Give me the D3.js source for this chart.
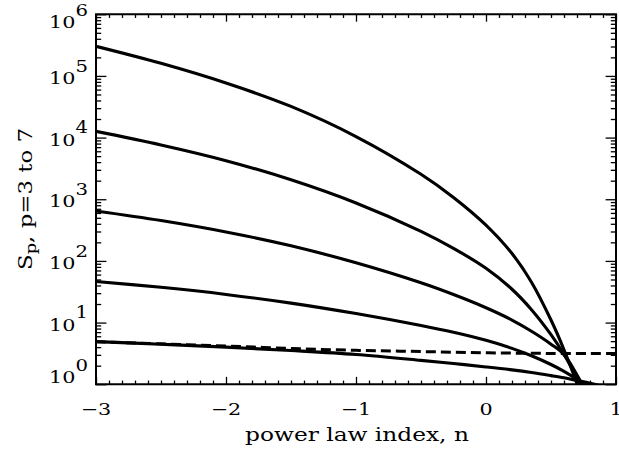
<!DOCTYPE html>
<html><head><meta charset="utf-8">
<script src="https://cdn.jsdelivr.net/npm/d3@7"></script>
<style>body{margin:0;background:#fff} svg{display:block;background:#fff}</style>
</head><body>
<svg id="c" width="619" height="452"></svg>
<script>
// ---- data ----
const nGrid = [-3, -2.5, -2, -1.5, -1, -0.5, -0.25, 0, 0.2, 0.35, 0.5, 0.6, 0.7, 0.8, 0.9];
const S7 = [302000, 160000, 76700, 32000, 10400, 2540, 1070, 380, 132, 45.2, 11.0, 3.63, 1.023, 0.257, 0.0562];
const S6 = [12600, 7590, 4220, 2070, 871, 302, 160, 75.9, 34.7, 16.2, 6.38, 3.05, 1.27, 0.473, 0.157];
const S5 = [646, 452, 295, 176, 93.3, 44.2, 28.5, 17.4, 11.0, 7.24, 4.47, 3.02, 1.41, 0.562, 0.200];
const S4 = [46.5, 37.3, 28.6, 20.7, 14.0, 8.95, 6.95, 5.15, 3.82, 2.90, 2.09, 1.62, 1.20, 0.832, 0.525];
const S3 = [4.92, 4.46, 4.00, 3.52, 3.03, 2.44, 2.17, 1.91, 1.71, 1.55, 1.38, 1.27, 1.15, 1.04, 0.924];
const dashN = [-3, -2.5, -2, -1.5, -1, -0.5, 0, 0.5, 1];
const dashS = [4.90, 4.52, 4.17, 3.80, 3.55, 3.39, 3.24, 3.16, 3.16];
const xTickVals = [-3, -2, -1, 0, 1];
const xTickLabels = ["\u22123", "\u22122", "\u22121", "0", "1"];
const yTickExps = [0, 1, 2, 3, 4, 5, 6];
const xTitle = "power law index, n";

// ---- layout ----
const L = 96, R = 616, T = 14.25, B = 384.25;
const FONT = "DejaVu Serif";
const svg = d3.select("#c");
const x = d3.scaleLinear().domain([-3, 1]).range([L, R]);
const y = d3.scaleLog().domain([1, 1e6]).range([B, T]);

svg.append("defs").append("clipPath").attr("id", "clip")
  .append("rect").attr("x", L).attr("y", T).attr("width", R - L).attr("height", B - T);

// curves
const line = d3.line().x(d => x(d[0])).y(d => y(d[1])).curve(d3.curveCatmullRom.alpha(0.5));
const gC = svg.append("g").attr("clip-path", "url(#clip)");
[S3, S4, S5, S6, S7].forEach(s => {
  gC.append("path").datum(nGrid.map((n, i) => [n, s[i]]))
    .attr("d", line).attr("fill", "none").attr("stroke", "#000").attr("stroke-width", 3.1);
});
gC.append("path").datum(dashN.map((n, i) => [n, dashS[i]]))
  .attr("d", line).attr("fill", "none").attr("stroke", "#000").attr("stroke-width", 3)
  .attr("stroke-dasharray", "10,5");

// axes ticks (inward), using d3 axes
const xMinor = d3.range(-30, 11).map(v => v / 10).filter(v => Math.abs(v - Math.round(v)) > 1e-9);
const yMinor = [];
for (let k = 0; k < 6; k++) for (let m = 2; m <= 9; m++) yMinor.push(m * Math.pow(10, k));
const majX = 7.4, minX = 3.7, majY = 10.4, minY = 5.2;
function styleAxis(g) { g.selectAll("path.domain").remove(); g.selectAll("line").attr("stroke", "#000").attr("stroke-width", 1.3); g.selectAll("text").remove(); }
svg.append("g").attr("transform", `translate(0,${B})`).call(d3.axisBottom(x).tickValues(xTickVals).tickSize(-majX).tickFormat("")).call(styleAxis);
svg.append("g").attr("transform", `translate(0,${B})`).call(d3.axisBottom(x).tickValues(xMinor).tickSize(-minX).tickFormat("")).call(styleAxis);
svg.append("g").attr("transform", `translate(0,${T})`).call(d3.axisTop(x).tickValues(xTickVals).tickSize(-majX).tickFormat("")).call(styleAxis);
svg.append("g").attr("transform", `translate(0,${T})`).call(d3.axisTop(x).tickValues(xMinor).tickSize(-minX).tickFormat("")).call(styleAxis);
const yMaj = yTickExps.map(k => Math.pow(10, k));
svg.append("g").attr("transform", `translate(${L},0)`).call(d3.axisLeft(y).tickValues(yMaj).tickSize(-majY).tickFormat("")).call(styleAxis);
svg.append("g").attr("transform", `translate(${L},0)`).call(d3.axisLeft(y).tickValues(yMinor).tickSize(-minY).tickFormat("")).call(styleAxis);
svg.append("g").attr("transform", `translate(${R},0)`).call(d3.axisRight(y).tickValues(yMaj).tickSize(-majY).tickFormat("")).call(styleAxis);
svg.append("g").attr("transform", `translate(${R},0)`).call(d3.axisRight(y).tickValues(yMinor).tickSize(-minY).tickFormat("")).call(styleAxis);

// frame
svg.append("rect").attr("x", L).attr("y", T).attr("width", R - L).attr("height", B - T)
  .attr("fill", "none").attr("stroke", "#000").attr("stroke-width", 2);

// labels
const FS = 17, SX = 1.22;
xTickVals.forEach((v, i) => {
  svg.append("text").attr("transform", `translate(${x(v)},415) scale(${SX},1)`)
    .attr("text-anchor", "middle").attr("font-family", FONT).attr("font-size", FS).text(xTickLabels[i]);
});
yTickExps.forEach(k => {
  const ty = y(Math.pow(10, k));
  const base = k === 6 ? ty + 14 : (k === 0 ? ty - 1 : ty + 8);
  const t = svg.append("text").attr("transform", `translate(88,${base}) scale(${SX},1)`)
    .attr("text-anchor", "end").attr("font-family", FONT).attr("font-size", FS);
  t.append("tspan").text("10");
  t.append("tspan").attr("dy", -12.3).attr("font-size", FS * 0.95).text(String(k));
});
// x title
const xt = svg.append("text").attr("font-family", FONT).attr("font-size", 18).attr("text-anchor", "middle").text(xTitle);
const xw = xt.node().getComputedTextLength();
xt.attr("transform", `translate(357,441) scale(${224 / xw},1)`);
// y title
const yt = svg.append("text").attr("font-family", FONT).attr("font-size", 18).attr("text-anchor", "middle");
yt.append("tspan").text("S");
yt.append("tspan").attr("dy", 4).attr("font-size", 14).text("p");
yt.append("tspan").attr("dy", -4).text(", p=3 to 7");
const yw = yt.node().getComputedTextLength();
yt.attr("transform", `translate(32,199) rotate(-90) scale(${142 / yw},1)`);
</script>
</body></html>
